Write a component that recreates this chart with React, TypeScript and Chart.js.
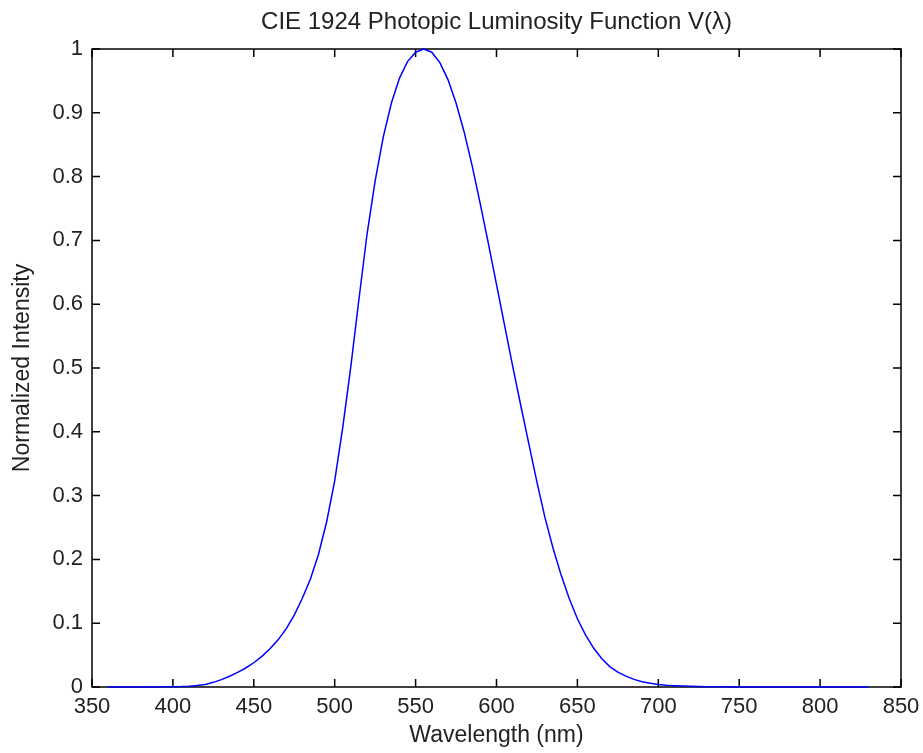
import { useEffect, useRef } from "react";
import Chart from "chart.js/auto";

// CIE 1924 photopic luminosity function V(λ), 5 nm steps
const wavelengths = [
  360, 365, 370, 375, 380, 385, 390, 395, 400, 405, 410, 415, 420, 425, 430, 435,
  440, 445, 450, 455, 460, 465, 470, 475, 480, 485, 490, 495, 500, 505, 510, 515,
  520, 525, 530, 535, 540, 545, 550, 555, 560, 565, 570, 575, 580, 585, 590, 595,
  600, 605, 610, 615, 620, 625, 630, 635, 640, 645, 650, 655, 660, 665, 670, 675,
  680, 685, 690, 695, 700, 705, 710, 715, 720, 725, 730, 735, 740, 745, 750, 755,
  760, 765, 770, 775, 780, 785, 790, 795, 800, 805, 810, 815, 820, 825, 830,
];
const luminosity = [
  0.000004, 0.000007, 0.000012, 0.000022, 0.000039, 0.000064, 0.00012, 0.000217,
  0.000396, 0.00064, 0.00121, 0.00218, 0.004, 0.0073, 0.0116, 0.01684,
  0.023, 0.0298, 0.038, 0.048, 0.06, 0.0739, 0.09098, 0.1126,
  0.13902, 0.1693, 0.20802, 0.2586, 0.323, 0.4073, 0.503, 0.6082,
  0.71, 0.7932, 0.862, 0.91485, 0.954, 0.9803, 0.99495, 1.0,
  0.995, 0.9786, 0.952, 0.9154, 0.87, 0.8163, 0.757, 0.6949,
  0.631, 0.5668, 0.503, 0.4412, 0.381, 0.321, 0.265, 0.217,
  0.175, 0.1382, 0.107, 0.0816, 0.061, 0.04458, 0.032, 0.0232,
  0.017, 0.01192, 0.00821, 0.005723, 0.004102, 0.002929, 0.002091, 0.001484,
  0.001047, 0.00074, 0.00052, 0.000361, 0.000249, 0.000172, 0.00012, 0.0000848,
  0.00006, 0.0000424, 0.00003, 0.0000212, 0.000015, 0.0000106, 0.0000075, 0.0000053,
  0.0000037, 0.0000026, 0.0000019, 0.0000013, 0.0000009, 0.0000007, 0.0000005,
];

const xTickValues = [350, 400, 450, 500, 550, 600, 650, 700, 750, 800, 850];
const xTickLabels = ["350", "400", "450", "500", "550", "600", "650", "700", "750", "800", "850"];
const yTickValues = [0, 0.1, 0.2, 0.3, 0.4, 0.5, 0.6, 0.7, 0.8, 0.9, 1];
const yTickLabels = ["0", "0.1", "0.2", "0.3", "0.4", "0.5", "0.6", "0.7", "0.8", "0.9", "1"];

const titleText = "CIE 1924 Photopic Luminosity Function V(λ)";
const xLabel = "Wavelength (nm)";
const yLabel = "Normalized Intensity";

const FONT = "'Liberation Sans', Arial, sans-serif";
const TEXT_COLOR = "#222";

const frameAndTicks = {
  id: "frameAndTicks",
  beforeDatasetsDraw(chart: any) {
    const { ctx, chartArea: a, scales } = chart;
    const L = 8;
    ctx.save();
    ctx.strokeStyle = "#000";
    ctx.lineWidth = 1.5;
    ctx.strokeRect(a.left, a.top, a.right - a.left, a.bottom - a.top);
    ctx.beginPath();
    for (const v of xTickValues) {
      const px = scales.x.getPixelForValue(v);
      ctx.moveTo(px, a.bottom);
      ctx.lineTo(px, a.bottom - L);
      ctx.moveTo(px, a.top);
      ctx.lineTo(px, a.top + L);
    }
    for (const v of yTickValues) {
      const py = scales.y.getPixelForValue(v);
      ctx.moveTo(a.left, py);
      ctx.lineTo(a.left + L, py);
      ctx.moveTo(a.right, py);
      ctx.lineTo(a.right - L, py);
    }
    ctx.stroke();
    ctx.restore();
  },
  afterDraw(chart: any) {
    const { ctx, chartArea: a } = chart;
    ctx.save();
    ctx.fillStyle = TEXT_COLOR;
    ctx.font = `24px ${FONT}`;
    ctx.textAlign = "center";
    ctx.textBaseline = "alphabetic";
    ctx.fillText(titleText, (a.left + a.right) / 2, 29);
    ctx.restore();
  },
};

export default function App() {
  const canvasRef = useRef<HTMLCanvasElement | null>(null);

  useEffect(() => {
    if (!canvasRef.current) return;
    const chart = new Chart(canvasRef.current, {
      type: "line",
      data: {
        datasets: [
          {
            data: wavelengths.map((w, i) => ({ x: w, y: luminosity[i] })),
            borderColor: "#0000ff",
            borderWidth: 1.5,
            pointRadius: 0,
            tension: 0,
            fill: false,
            clip: 4,
          },
        ],
      },
      options: {
        animation: false,
        responsive: true,
        maintainAspectRatio: false,
        layout: { padding: { top: 49, right: 22, bottom: 0, left: 0 } },
        plugins: {
          legend: { display: false },
          tooltip: { enabled: false },
          title: { display: false },
        },
        scales: {
          x: {
            type: "linear",
            min: 350,
            max: 850,
            afterBuildTicks: (s: any) => {
              s.ticks = xTickValues.map((v) => ({ value: v }));
            },
            afterFit: (s: any) => {
              s.height = 66;
              s.paddingLeft = 0;
              s.paddingRight = 0;
            },
            grid: { display: false, drawTicks: false },
            border: { display: false },
            ticks: {
              color: TEXT_COLOR,
              font: { family: FONT, size: 22 },
              padding: 7,
              maxRotation: 0,
              autoSkip: false,
              callback: (_v: any, i: number) => xTickLabels[i],
            },
            title: {
              display: true,
              text: xLabel,
              color: TEXT_COLOR,
              font: { family: FONT, size: 23 },
              padding: { top: 0, bottom: 4 },
            },
          },
          y: {
            type: "linear",
            min: 0,
            max: 1,
            afterBuildTicks: (s: any) => {
              s.ticks = yTickValues.map((v) => ({ value: v }));
            },
            afterFit: (s: any) => {
              s.width = 92;
              s.paddingTop = 0;
              s.paddingBottom = 0;
            },
            grid: { display: false, drawTicks: false },
            border: { display: false },
            ticks: {
              color: TEXT_COLOR,
              font: { family: FONT, size: 22 },
              padding: 9,
              autoSkip: false,
              callback: (_v: any, i: number) => yTickLabels[i],
            },
            title: {
              display: true,
              text: yLabel,
              color: TEXT_COLOR,
              font: { family: FONT, size: 23 },
              padding: { top: 9, bottom: 0 },
            },
          },
        },
      },
      plugins: [frameAndTicks],
    });
    return () => chart.destroy();
  }, []);

  return (
    <div style={{ position: "absolute", left: 0, top: 0, width: 923, height: 753, background: "#fff" }}>
      <canvas ref={canvasRef} />
    </div>
  );
}
